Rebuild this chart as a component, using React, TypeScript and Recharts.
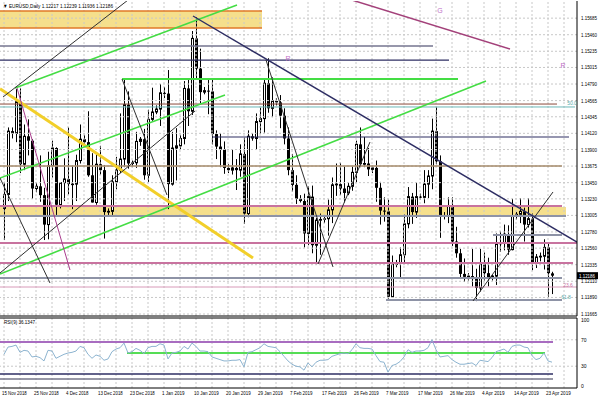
import React from "react";
import {
  Bar,
  ComposedChart,
  Line,
  ReferenceArea,
  ReferenceDot,
  ReferenceLine,
  XAxis,
  YAxis,
} from "recharts";

// daily EURUSD bars, 15 Nov 2018 .. 24 Apr 2019 (index = bar number)
const opens = [
  1.1310, 1.1329, 1.1415, 1.1412, 1.1455, 1.1370, 1.1408, 1.1402, 1.1337, 1.1340,
  1.1328, 1.1288, 1.1368, 1.1392, 1.1315, 1.1345, 1.1350, 1.1343, 1.1343, 1.1375,
  1.1404, 1.1400, 1.1355, 1.1318, 1.1370, 1.1362, 1.1305, 1.1306, 1.1346, 1.1362,
  1.1377, 1.1451, 1.1371, 1.1372, 1.1401, 1.1404, 1.1355, 1.1431, 1.1441, 1.1445,
  1.1467, 1.1466, 1.1343, 1.1392, 1.1395, 1.1405, 1.1473, 1.1442, 1.1541, 1.1500,
  1.1468, 1.1470, 1.1469, 1.1411, 1.1394, 1.1390, 1.1365, 1.1362, 1.1365, 1.1362,
  1.1384, 1.1303, 1.1408, 1.1405, 1.1428, 1.1432, 1.1480, 1.1446, 1.1456, 1.1454,
  1.1436, 1.1405, 1.1362, 1.1342, 1.1323, 1.1320, 1.1276, 1.1326, 1.1260, 1.1294,
  1.1295, 1.1296, 1.1308, 1.1342, 1.1343, 1.1337, 1.1331, 1.1340, 1.1359, 1.1397,
  1.1370, 1.1371, 1.1363, 1.1365, 1.1338, 1.1307, 1.1306, 1.1190, 1.1234, 1.1236,
  1.1247, 1.1289, 1.1326, 1.1305, 1.1326, 1.1325, 1.1343, 1.1354, 1.1415, 1.1374,
  1.1301, 1.1300, 1.1313, 1.1265, 1.1249, 1.1221, 1.1217, 1.1218, 1.1214, 1.1202,
  1.1234, 1.1222, 1.1216, 1.1218, 1.1262, 1.1263, 1.1275, 1.1254, 1.1300, 1.1302,
  1.1306, 1.1288, 1.1296, 1.1236, 1.1244, 1.1245, 1.1257, 1.12217,
];
const highs = [
  1.1346, 1.1420, 1.1420, 1.1472, 1.1473, 1.1424, 1.1431, 1.1404, 1.1345, 1.1382,
  1.1338, 1.1387, 1.1402, 1.1393, 1.1345, 1.1378, 1.1420, 1.1368, 1.1383, 1.1424,
  1.1410, 1.1442, 1.1385, 1.1384, 1.1395, 1.1369, 1.1310, 1.1355, 1.1380, 1.1439,
  1.1486, 1.1469, 1.1375, 1.1414, 1.1407, 1.1418, 1.1444, 1.1474, 1.1450, 1.1479,
  1.1475, 1.1498, 1.1414, 1.1419, 1.1410, 1.1483, 1.1486, 1.1551, 1.1570, 1.1527,
  1.1475, 1.1486, 1.1486, 1.1416, 1.1412, 1.1401, 1.1370, 1.1390, 1.1377, 1.1397,
  1.1406, 1.1416, 1.1412, 1.1439, 1.1447, 1.1486, 1.1514, 1.1488, 1.1460, 1.1464,
  1.1446, 1.1420, 1.1384, 1.1355, 1.1328, 1.1330, 1.1340, 1.1341, 1.1297, 1.1303,
  1.1300, 1.1322, 1.1352, 1.1371, 1.1372, 1.1367, 1.1345, 1.1367, 1.1402, 1.1420,
  1.1407, 1.1392, 1.1368, 1.1375, 1.1346, 1.1325, 1.1322, 1.1246, 1.1240, 1.1257,
  1.1302, 1.1339, 1.1331, 1.1345, 1.1330, 1.1362, 1.1362, 1.1432, 1.1448, 1.1382,
  1.1305, 1.1325, 1.1325, 1.1285, 1.1255, 1.1242, 1.1222, 1.1255, 1.1228, 1.1255,
  1.1250, 1.1243, 1.1220, 1.1276, 1.1279, 1.1288, 1.1287, 1.1323, 1.1305, 1.1324,
  1.1311, 1.1324, 1.1303, 1.1248, 1.1250, 1.1268, 1.1264, 1.12239,
];
const lows = [
  1.1267, 1.1320, 1.1405, 1.1400, 1.1358, 1.1362, 1.1382, 1.1323, 1.1332, 1.1319,
  1.1267, 1.1268, 1.1352, 1.1301, 1.1310, 1.1320, 1.1329, 1.1309, 1.1320, 1.1371,
  1.1395, 1.1353, 1.1318, 1.1315, 1.1356, 1.1269, 1.1300, 1.1300, 1.1336, 1.1358,
  1.1366, 1.1364, 1.1366, 1.1365, 1.1395, 1.1349, 1.1346, 1.1429, 1.1438, 1.1422,
  1.1460, 1.1309, 1.1341, 1.1348, 1.1390, 1.1397, 1.1422, 1.1437, 1.1485, 1.1453,
  1.1465, 1.1438, 1.1397, 1.1377, 1.1366, 1.1357, 1.1358, 1.1356, 1.1335, 1.1353,
  1.1289, 1.1298, 1.1402, 1.1390, 1.1411, 1.1413, 1.1440, 1.1434, 1.1450, 1.1419,
  1.1397, 1.1355, 1.1333, 1.1316, 1.1318, 1.1257, 1.1260, 1.1249, 1.1234, 1.1247,
  1.1290, 1.1273, 1.1290, 1.1327, 1.1328, 1.1318, 1.1328, 1.1334, 1.1345, 1.1366,
  1.1366, 1.1354, 1.1358, 1.1319, 1.1288, 1.1292, 1.1185, 1.1189, 1.1230, 1.1216,
  1.1235, 1.1283, 1.1289, 1.1297, 1.1322, 1.1317, 1.1324, 1.1336, 1.1370, 1.1270,
  1.1295, 1.1290, 1.1259, 1.1243, 1.1214, 1.1210, 1.1212, 1.1204, 1.1184, 1.1197,
  1.1212, 1.1204, 1.1212, 1.1206, 1.1251, 1.1253, 1.1247, 1.1253, 1.1295, 1.1290,
  1.1265, 1.1284, 1.1226, 1.1229, 1.1238, 1.1227, 1.1190, 1.11936,
];
const closes = [
  1.1329, 1.1415, 1.1412, 1.1455, 1.1370, 1.1408, 1.1402, 1.1337, 1.1340, 1.1328,
  1.1288, 1.1368, 1.1392, 1.1315, 1.1345, 1.1350, 1.1343, 1.1343, 1.1375, 1.1404,
  1.1400, 1.1355, 1.1318, 1.1370, 1.1362, 1.1305, 1.1306, 1.1346, 1.1362, 1.1377,
  1.1451, 1.1371, 1.1372, 1.1401, 1.1404, 1.1355, 1.1431, 1.1441, 1.1445, 1.1467,
  1.1466, 1.1343, 1.1392, 1.1395, 1.1405, 1.1473, 1.1442, 1.1541, 1.1500, 1.1468,
  1.1470, 1.1469, 1.1411, 1.1394, 1.1390, 1.1365, 1.1362, 1.1365, 1.1362, 1.1384,
  1.1303, 1.1408, 1.1405, 1.1428, 1.1432, 1.1480, 1.1446, 1.1456, 1.1454, 1.1436,
  1.1405, 1.1362, 1.1342, 1.1323, 1.1320, 1.1276, 1.1326, 1.1260, 1.1294, 1.1295,
  1.1296, 1.1308, 1.1342, 1.1343, 1.1337, 1.1331, 1.1340, 1.1359, 1.1397, 1.1370,
  1.1371, 1.1363, 1.1365, 1.1338, 1.1307, 1.1306, 1.1190, 1.1234, 1.1236, 1.1247,
  1.1289, 1.1326, 1.1305, 1.1326, 1.1325, 1.1343, 1.1354, 1.1415, 1.1374, 1.1301,
  1.1300, 1.1313, 1.1265, 1.1249, 1.1221, 1.1217, 1.1218, 1.1214, 1.1202, 1.1234,
  1.1222, 1.1216, 1.1218, 1.1262, 1.1263, 1.1275, 1.1254, 1.1300, 1.1302, 1.1306,
  1.1288, 1.1296, 1.1236, 1.1244, 1.1245, 1.1257, 1.1222, 1.12186,
];
const rsiValues = [
  48, 59, 60, 62, 51, 54, 53, 44, 45, 43,
  38, 54, 53, 42, 45, 48, 50, 51, 53, 60,
  58, 48, 42, 47, 45, 39, 41, 52, 56, 58,
  65, 50, 52, 57, 54, 49, 58, 60, 60, 64,
  62, 41, 50, 51, 53, 60, 56, 65, 60, 53,
  53, 52, 44, 42, 40, 38, 38, 39, 39, 40,
  29, 51, 52, 55, 58, 64, 60, 59, 58, 52,
  45, 38, 33, 30, 29, 24, 35, 29, 36, 39,
  39, 40, 45, 47, 49, 50, 49, 55, 64, 58,
  57, 57, 56, 46, 37, 36, 21, 31, 33, 37,
  44, 55, 51, 53, 53, 54, 58, 70, 55, 44,
  45, 46, 40, 36, 33, 33, 34, 35, 31, 39,
  38, 37, 43, 52, 54, 56, 51, 60, 62, 62,
  59, 58, 46, 40, 42, 50, 38, 36.13,
];

const priceTicks = [
  1.11665, 1.1189, 1.1211, 1.12335, 1.1256, 1.1278, 1.13005, 1.1323, 1.1345,
  1.13675, 1.139, 1.1412, 1.14345, 1.14565, 1.1479, 1.15015, 1.15235, 1.1546,
  1.15685,
];
const dateTicks = [0, 8, 16, 24, 32, 40, 48, 56, 64, 72, 80, 88, 96, 104, 112, 120, 128, 136];
const dateLabels = [
  "15 Nov 2018", "25 Nov 2018", "4 Dec 2018", "13 Dec 2018", "23 Dec 2018",
  "1 Jan 2019", "10 Jan 2019", "20 Jan 2019", "29 Jan 2019", "7 Feb 2019",
  "17 Feb 2019", "26 Feb 2019", "7 Mar 2019", "17 Mar 2019", "26 Mar 2019",
  "4 Apr 2019", "14 Apr 2019", "23 Apr 2019",
];
// vertical grid every 4 bars
const gridBars = [
  0, 4, 8, 12, 16, 20, 24, 28, 32, 36, 40, 44, 48, 52, 56, 60, 64, 68, 72,
  76, 80, 84, 88, 92, 96, 100, 104, 108, 112, 116, 120, 124, 128, 132, 136, 140,
];
const rsiTicks = [0, 30, 70, 100];

// drawn objects, in chart units: [price, fromBar, toBar]
const pinkLevels = [[1.13132, -1, 139.5], [1.1263, -1, 143.25], [1.12358, -1, 142.25]];
const fibLevels = [[1.12032, -1, 143.25]];
const grayLevels = [[1.12997, -1, 140.5], [1.12154, -1, 139.5], [1.12738, 122.25, 139.5], [1.11855, 95.5, 139.5]];
const navyLevels = [[1.15116, -1, 111.25], [1.1407, 52, 141.25]];
const slateLevels = [[1.15306, -1, 107.25]];
const greenLevels = [[1.14858, 29.5, 113.5]];
const tanLevels = [[1.13676, -1, 139.5]];
const brownLevels = [[1.14518, -1, 138.25]];
const tealLevels = [[1.14478, -1, 142.75]];
const orangeLevels = [[1.15782, -1, 64.5], [1.15551, -1, 64.5]];
// zones: [priceLow, priceHigh, fromBar, toBar]
const zones = [[1.15551, 1.15782, -1, 64.5], [1.12997, 1.13118, -1, 140.5]];

// trend lines: [bar1, price1, bar2, price2]
const blackTrends = [
  [-0.25, 1.14613, 31, 1.15931],
  [-1, 1.12222, 47.75, 1.14423],
  [-1, 1.13513, 11.5, 1.12086],
  [29.5, 1.14858, 40.75, 1.13282],
  [65.5, 1.15116, 82.25, 1.12304],
  [78.5, 1.12344, 91.5, 1.14002],
  [117.25, 1.11842, 137.25, 1.13323],
];
const navyTrends = [[47.25, 1.15714, 143.25, 1.12643]];
const greenTrends = [
  [2.75, 1.14736, 58.25, 1.15863],
  [-1, 1.13513, 55.25, 1.14641],
  [-1, 1.12208, 120.5, 1.14831],
];
const yellowTrends = [[-1, 1.14726, 62.25, 1.12426]];
const magentaTrends = [[3.25, 1.14736, 16.5, 1.12263]];
const plumTrends = [[87, 1.15931, 126.5, 1.15265]];

// text marks: [bar, price, text]
const chartNotes = [
  [109, 1.15795, "G"],
  [71, 1.15143, "R"],
  [139.75, 1.15048, "R"],
];
const fibNotes = [
  [142, 1.14532, "50.0", "#5aaaaa"],
  [141, 1.12059, "23.6", "#c8739f"],
  [140.5, 1.11896, "61.8", "#5aaaaa"],
];

// RSI window levels: [value, fromBar, toBar]
const rsiPurple = [[66.7, -1, 137.25]];
const rsiGreen = [[50, 30.75, 135.25]];
const rsiNavy = [[18.2, -1, 137.25]];
const rsiGray = [[10.6, -1, 137.25]];

const bars = opens.map((o, i) => ({
  i,
  o,
  h: highs[i],
  l: lows[i],
  c: closes[i],
  range: [lows[i], highs[i]],
  rsi: rsiValues[i],
}));

const lastClose = closes[closes.length - 1];
const X_DOMAIN = [-1, 143.25];
const PRICE_DOMAIN = [1.11638, 1.15918];
const FONT = "'Liberation Sans', Arial, sans-serif";

function Candle(props: any) {
  const { x, y, width, height, payload } = props;
  const { o, h, l, c } = payload;
  const cx = Math.round(x + width / 2);
  const span = h - l || 1e-9;
  const top = y + ((h - Math.max(o, c)) / span) * height;
  const bot = y + ((h - Math.min(o, c)) / span) * height;
  const bull = c >= o;
  return (
    <g>
      <line x1={cx + 0.5} x2={cx + 0.5} y1={y} y2={y + Math.max(height, 1)} stroke="#000" strokeWidth={1} />
      {bull ? (
        <rect x={cx - 0.5} y={top} width={2} height={Math.max(bot - top, 0.5)} fill="#fff" stroke="#000" strokeWidth={1} />
      ) : (
        <rect x={cx - 1} y={top} width={3} height={Math.max(bot - top, 1)} fill="#000" />
      )}
    </g>
  );
}

function PriceTick(props: any) {
  const { x, y, payload } = props;
  return (
    <text x={x + 4} y={y + 2} fontSize={5} fontFamily={FONT} fill="#000" textLength={16} lengthAdjust="spacingAndGlyphs">
      {payload.value.toFixed(5)}
    </text>
  );
}

function RsiTick(props: any) {
  const { x, y, payload } = props;
  return (
    <text x={x + 4} y={y + 2} fontSize={5} fontFamily={FONT} fill="#000">
      {payload.value}
    </text>
  );
}

function DateTick(props: any) {
  const { x, y, payload } = props;
  const label = dateLabels[dateTicks.indexOf(payload.value)] ?? "";
  return (
    <text x={x - 2} y={y + 7} fontSize={5.5} fontFamily={FONT} fill="#000" textLength={label.length * 2.25} lengthAdjust="spacingAndGlyphs">
      {label}
    </text>
  );
}

function PriceBox(props: any) {
  const { viewBox } = props;
  const y = viewBox.y;
  return (
    <g>
      <rect x={577} y={y - 3.5} width={21} height={7} fill="#000" />
      <text x={579} y={y + 2} fontSize={5} fontFamily={FONT} fill="#fff" textLength={16} lengthAdjust="spacingAndGlyphs">
        {lastClose.toFixed(5)}
      </text>
    </g>
  );
}

function levelLines(list: number[][], stroke: string, width: number, prefix: string) {
  return list.map(([p, a, b], k) => (
    <ReferenceLine
      key={prefix + k}
      segment={[{ x: a, y: p }, { x: b, y: p }]}
      stroke={stroke}
      strokeWidth={width}
      ifOverflow="hidden"
    />
  ));
}

function trendLines(list: number[][], stroke: string, width: number, prefix: string) {
  return list.map(([a, p1, b, p2], k) => (
    <ReferenceLine
      key={prefix + k}
      segment={[{ x: a, y: p1 }, { x: b, y: p2 }]}
      stroke={stroke}
      strokeWidth={width}
      ifOverflow="hidden"
    />
  ));
}

export default function App() {
  return (
    <div
      style={{
        position: "absolute",
        left: 0,
        top: 0,
        width: 600,
        height: 400,
        background: "#fff",
        overflow: "hidden",
      }}
    >
      <div style={{ position: "absolute", left: 0, top: 0 }}>
        <ComposedChart
          width={600}
          height={320}
          data={bars}
          margin={{ top: 1, right: 0, bottom: 4, left: 0 }}
        >
          <XAxis type="number" dataKey="i" domain={X_DOMAIN} hide allowDataOverflow />
          <YAxis
            orientation="right"
            width={23}
            domain={PRICE_DOMAIN}
            ticks={priceTicks}
            tick={<PriceTick />}
            tickSize={0}
            tickMargin={0}
            tickLine={false}
            axisLine={{ stroke: "#000" }}
            allowDataOverflow
            interval={0}
          />

          {priceTicks.map((p) => (
            <ReferenceLine key={"hg" + p} y={p} stroke="#c8c8c8" strokeDasharray="2 2" />
          ))}
          {gridBars.map((t) => (
            <ReferenceLine key={"vg" + t} x={t} stroke="#c8c8c8" strokeDasharray="2 2" />
          ))}

          {zones.map(([p1, p2, a, b], k) => (
            <ReferenceArea
              key={"z" + k}
              x1={a}
              x2={b}
              y1={p1}
              y2={p2}
              fill="#f4dc80"
              fillOpacity={0.9}
              stroke="none"
              ifOverflow="hidden"
            />
          ))}

          <Bar
            dataKey="range"
            barSize={3}
            shape={<Candle />}
            isAnimationActive={false}
          />

          {levelLines(orangeLevels, "#e07a28", 1.5, "or")}
          {levelLines(slateLevels, "#74748f", 1.5, "sl")}
          {levelLines(navyLevels, "#2e2e63", 1.2, "nv")}
          {levelLines(greenLevels, "#44dd44", 1.8, "gr")}
          {levelLines(brownLevels, "#8a4a3a", 1, "br")}
          {levelLines(tealLevels, "#6cb8b8", 1, "tl")}
          {levelLines(tanLevels, "#a48a6a", 1.5, "tn")}
          {levelLines(pinkLevels, "#c8739f", 2, "pk")}
          {levelLines(fibLevels, "#d89ab8", 1, "fb")}
          {levelLines(grayLevels, "#8e93a6", 2, "gy")}

          {trendLines(yellowTrends, "#f2cf2a", 3, "yt")}
          {trendLines(greenTrends, "#44dd44", 1.6, "gt")}
          {trendLines(blackTrends, "#303030", 1, "bt")}
          {trendLines(navyTrends, "#2e2e63", 1.4, "nt")}
          {trendLines(magentaTrends, "#a83c8c", 1, "mt")}
          {trendLines(plumTrends, "#a3417a", 1.5, "pt")}

          {chartNotes.map(([b, p, t], k) => (
            <ReferenceDot
              key={"cn" + k}
              x={b as number}
              y={p as number}
              r={0}
              stroke="none"
              fill="none"
              label={{ value: t as string, fill: "#c070c8", fontSize: 7, fontFamily: FONT }}
            />
          ))}
          {fibNotes.map(([b, p, t, col], k) => (
            <ReferenceDot
              key={"fn" + k}
              x={b as number}
              y={p as number}
              r={0}
              stroke="none"
              fill="none"
              label={{ value: t as string, fill: col as string, fontSize: 5, fontFamily: FONT }}
            />
          ))}

          <ReferenceLine y={PRICE_DOMAIN[0]} stroke="#000" strokeWidth={1} />
          <ReferenceLine y={lastClose} stroke="none" label={<PriceBox />} />
        </ComposedChart>
      </div>

      <div style={{ position: "absolute", left: 0, top: 317 }}>
        <ComposedChart
          width={600}
          height={83}
          data={bars}
          margin={{ top: 1, right: 0, bottom: 0, left: 0 }}
        >
          <XAxis
            type="number"
            dataKey="i"
            domain={X_DOMAIN}
            ticks={dateTicks}
            tick={<DateTick />}
            height={12}
            tickSize={0}
            tickMargin={0}
            tickLine={false}
            axisLine={{ stroke: "#000" }}
            allowDataOverflow
            interval={0}
          />
          <YAxis
            orientation="right"
            width={23}
            domain={[-3, 103]}
            ticks={rsiTicks}
            tick={<RsiTick />}
            tickSize={0}
            tickMargin={0}
            tickLine={false}
            axisLine={{ stroke: "#000" }}
            allowDataOverflow
            interval={0}
          />
          {[30, 70].map((v) => (
            <ReferenceLine key={"rg" + v} y={v} stroke="#c8c8c8" strokeDasharray="2 2" />
          ))}
          {gridBars.map((t) => (
            <ReferenceLine key={"rv" + t} x={t} stroke="#c8c8c8" strokeDasharray="2 2" />
          ))}
          {levelLines(rsiPurple, "#a86cc0", 2, "rp")}
          {levelLines(rsiGreen, "#55dd55", 2, "rgn")}
          {levelLines(rsiNavy, "#2e2e63", 1.5, "rn")}
          {levelLines(rsiGray, "#77778a", 1.5, "ry")}
          <Line
            dataKey="rsi"
            stroke="#8db4d0"
            strokeWidth={1}
            dot={false}
            isAnimationActive={false}
          />
          <ReferenceLine y={103} stroke="#000" strokeWidth={1} />
        </ComposedChart>
      </div>

      <svg
        width={600}
        height={400}
        style={{ position: "absolute", left: 0, top: 0, pointerEvents: "none" }}
      >
        <text x={3} y={8} fontSize={5.5} fontFamily={FONT} fill="#000" textLength={110} lengthAdjust="spacingAndGlyphs">
          ▼ EURUSD,Daily  1.12217 1.12239 1.11936 1.12186
        </text>
        <text x={4} y={324} fontSize={5.5} fontFamily={FONT} fill="#000" textLength={31} lengthAdjust="spacingAndGlyphs">
          RSI(9) 36.1347
        </text>
      </svg>
    </div>
  );
}
